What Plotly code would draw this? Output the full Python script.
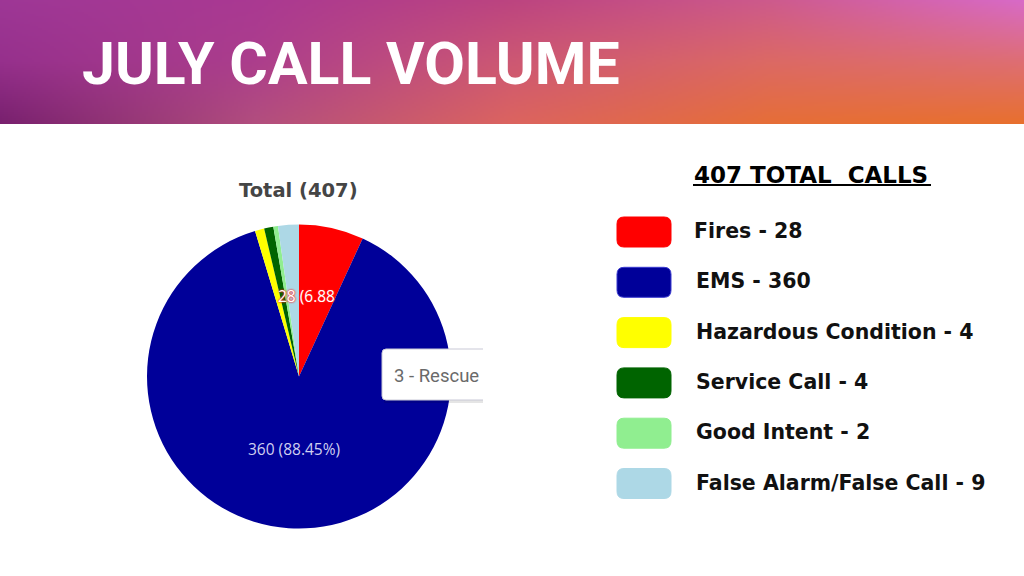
import numpy as np
import plotly.graph_objects as go

# ---------------- data ----------------
categories = ["Fires", "EMS", "Hazardous Condition", "Service Call",
              "Good Intent", "False Alarm/False Call"]
call_counts = [28, 360, 4, 4, 2, 9]
slice_colors = ["#ff0000", "#000099", "#ffff00", "#006400", "#90ee90", "#add8e6"]
total_calls = sum(call_counts)
slide_title = "JULY CALL VOLUME"
pie_title = f"Total ({total_calls})"
legend_heading = f"{total_calls} TOTAL  CALLS"
tooltip_text = "3 - Rescue"

W, H = 1024, 576


def px(x):
    return x / W


def py(y):
    return 1 - y / H


# ---------------- header gradient (style) ----------------
gw, gh = 512, 62
ctrl_x = [0, 256, 512, 768, 1024]
ctrl = np.array([
    [[158, 55, 150], [170, 57, 146], [188, 68, 128], [205, 90, 140], [216, 106, 200]],
    [[150, 48, 140], [172, 62, 140], [205, 88, 115], [220, 105, 100], [222, 110, 115]],
    [[120, 32, 110], [178, 78, 126], [220, 100, 95], [230, 110, 55], [232, 112, 45]],
], dtype=float)
xs = np.linspace(1, 1023, gw)
ys = np.linspace(1, 123, gh)
rows = np.array([[np.interp(xs, ctrl_x, ctrl[r, :, c]) for c in range(3)] for r in range(3)])
img = np.zeros((gh, gw, 3))
for j, yv in enumerate(ys):
    if yv <= 62:
        t = yv / 62
        line = rows[0] * (1 - t) + rows[1] * t
    else:
        t = (yv - 62) / 62
        line = rows[1] * (1 - t) + rows[2] * t
    img[j] = line.T
img = np.clip(img, 0, 255).astype(np.uint8)

fig = go.Figure()
fig.add_trace(go.Image(z=img, x0=1, y0=1, dx=2, dy=2, hoverinfo="skip"))

# ---------------- pie ----------------
cx, cy, r = 299, 376.5, 152
fig.add_trace(go.Pie(
    labels=categories, values=call_counts,
    marker=dict(colors=slice_colors, line=dict(width=0)),
    sort=False, direction="clockwise", rotation=0,
    textinfo="none", hoverinfo="skip", showlegend=False,
    domain=dict(x=[px(cx - r), px(cx + r)], y=[py(cy + r), py(cy - r)]),
))

shapes = []
annotations = []

# slide title
annotations.append(dict(
    text=slide_title, x=px(80), y=py(63), xref="paper", yref="paper",
    xanchor="left", yanchor="middle", showarrow=False,
    font=dict(family="Roboto", size=59, color="white", weight=700),
))

# pie title
annotations.append(dict(
    text=pie_title, x=px(298), y=py(190), xref="paper", yref="paper",
    xanchor="center", yanchor="middle", showarrow=False,
    font=dict(family="DejaVu Sans", size=19.5, color="#454545", weight=700),
))

# slice labels
pct = [v / total_calls * 100 for v in call_counts]
fires_label = f"{call_counts[0]} ({pct[0]:.2f}%)"[:8]
ems_label = f"{call_counts[1]} ({pct[1]:.2f}%)"
annotations.append(dict(
    text=fires_label, x=px(276), y=py(296), xref="paper", yref="paper",
    xanchor="left", yanchor="middle", showarrow=False,
    font=dict(family="Open Sans", size=15.5, color="white",
              shadow="0px 0px 2px #ff2020, 0px 0px 2px #ff2020"),
))
annotations.append(dict(
    text=ems_label, x=px(294), y=py(449), xref="paper", yref="paper",
    xanchor="center", yanchor="middle", showarrow=False,
    font=dict(family="Open Sans", size=15.5, color="#cfcff0"),
))

# tooltip box (clipped at right edge)
tx0, tx1, ty0, ty1, rr = 382, 483, 349, 400, 4
shapes.append(dict(type="rect", xref="paper", yref="paper",
                   x0=px(tx0 + 2), x1=px(tx1), y0=py(ty1 + 3), y1=py(ty0 + 3),
                   fillcolor="rgba(0,0,0,0.10)", line=dict(width=0), layer="above"))
box_path = (f"M {px(tx1)} {py(ty0)} L {px(tx0 + rr)} {py(ty0)} "
            f"Q {px(tx0)} {py(ty0)} {px(tx0)} {py(ty0 + rr)} "
            f"L {px(tx0)} {py(ty1 - rr)} Q {px(tx0)} {py(ty1)} {px(tx0 + rr)} {py(ty1)} "
            f"L {px(tx1)} {py(ty1)}")
shapes.append(dict(type="path", xref="paper", yref="paper", path=box_path + " Z",
                   fillcolor="white", line=dict(width=0), layer="above"))
shapes.append(dict(type="path", xref="paper", yref="paper", path=box_path,
                   fillcolor="rgba(0,0,0,0)", line=dict(color="#c9c9d6", width=1), layer="above"))
annotations.append(dict(
    text=tooltip_text, x=px(392), y=py(376), xref="paper", yref="paper",
    xanchor="left", yanchor="middle", showarrow=False,
    font=dict(family="Roboto", size=18.5, color="#6a6a6a"),
))

# legend heading
annotations.append(dict(
    text=legend_heading, x=px(692), y=py(175), xref="paper", yref="paper",
    xanchor="left", yanchor="middle", showarrow=False,
    font=dict(family="DejaVu Sans", size=23, color="black", weight=700),
))
shapes.append(dict(type="line", xref="paper", yref="paper",
                   x0=px(693), x1=px(931), y0=py(185), y1=py(185),
                   line=dict(color="black", width=2)))

# legend items
bx0, bx1, bh, br = 617, 671, 30, 7
first_center, step = 232, 50.3
for i, (lab, val, col) in enumerate(zip(categories, call_counts, slice_colors)):
    yc = first_center + i * step
    y0, y1 = yc - bh / 2, yc + bh / 2
    p = (f"M {px(bx0 + br)} {py(y0)} L {px(bx1 - br)} {py(y0)} "
         f"Q {px(bx1)} {py(y0)} {px(bx1)} {py(y0 + br)} "
         f"L {px(bx1)} {py(y1 - br)} Q {px(bx1)} {py(y1)} {px(bx1 - br)} {py(y1)} "
         f"L {px(bx0 + br)} {py(y1)} Q {px(bx0)} {py(y1)} {px(bx0)} {py(y1 - br)} "
         f"L {px(bx0)} {py(y0 + br)} Q {px(bx0)} {py(y0)} {px(bx0 + br)} {py(y0)} Z")
    edge = "#3a3ad0" if lab == "EMS" else col
    shapes.append(dict(type="path", xref="paper", yref="paper", path=p,
                       fillcolor=col, line=dict(color=edge, width=1)))
    annotations.append(dict(
        text=f"{lab} - {val}", x=px(692 if i == 0 else 694), y=py(yc - 1),
        xref="paper", yref="paper", xanchor="left", yanchor="middle", showarrow=False,
        font=dict(family="DejaVu Sans", size=20.5, color="#111111", weight=700),
    ))

fig.update_layout(
    width=W, height=H,
    margin=dict(l=0, r=0, t=0, b=0),
    paper_bgcolor="white", plot_bgcolor="white",
    xaxis=dict(domain=[0, 1], range=[0, 1024], visible=False, fixedrange=True),
    yaxis=dict(domain=[1 - 124 / H, 1], range=[124, 0], visible=False, fixedrange=True),
    shapes=shapes, annotations=annotations,
    showlegend=False,
)

fig.write_html("out.html", config={"displayModeBar": False},
               post_script="document.body.style.margin='0';document.body.style.overflow='hidden';")
